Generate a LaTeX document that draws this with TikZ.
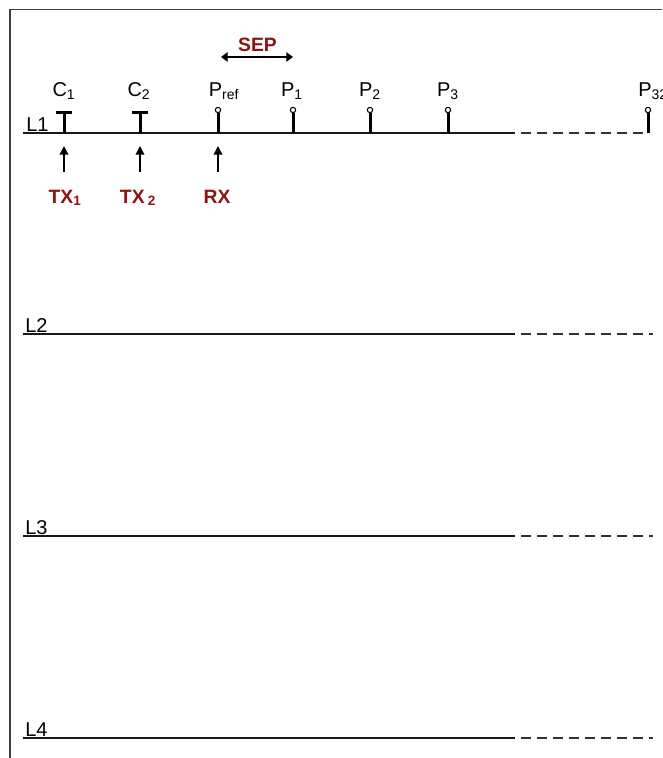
\documentclass[tikz,border=0pt]{standalone}
\usepackage{fontspec}
\setmainfont{Liberation Sans}
\usetikzlibrary{arrows.meta}
\definecolor{dred}{HTML}{8E1414}
\definecolor{framec}{HTML}{404040}
\begin{document}
\begin{tikzpicture}[x=0.75pt,y=-0.75pt,
  lab/.style={font=\fontsize{15}{17}\selectfont, inner sep=0pt, anchor=base},
  redlab/.style={font=\fontsize{14.5}{16}\selectfont\bfseries, text=dred, inner sep=0pt, anchor=base},
  bus/.style={line width=1.5pt, draw=black!90},
  busdash/.style={line width=1.5pt, draw=black!80, dash pattern=on 7.5pt off 4.5pt},
  stem/.style={line width=2.25pt, draw=black},
  bulb/.style={line width=0.8pt, draw=black, fill=white},
  ptr/.style={line width=1pt, -{Triangle[width=6.5pt,length=6.5pt]}},
  separ/.style={line width=1.2pt, {Triangle[width=7pt,length=5pt]}-{Triangle[width=7pt,length=5pt]}},
  framel/.style={line width=1.1pt, draw=framec}
]
\useasboundingbox (0,0) rectangle (662,758);
% frame
\draw[framel] (10,758) -- (10,9.5) -- (662,9.5);

% lines L1..L4
\foreach \n/\yy/\e in {1/133/645, 2/334/653, 3/536/653, 4/738/653}{
  \coordinate (L\n a) at (23,\yy);
  \coordinate (L\n b) at (515,\yy);
  \coordinate (L\n c) at (521,\yy);
  \coordinate (L\n d) at (\e,\yy);
  \draw[bus] (L\n a) -- (L\n b);
  \draw[busdash] (L\n c) -- (L\n d);
}
\node[lab, anchor=base west] (lab1) at (26,131.5) {L1};
\node[lab, anchor=base west] (lab2) at (25,332.5) {L2};
\node[lab, anchor=base west] (lab3) at (25,534.5) {L3};
\node[lab, anchor=base west] (lab4) at (25,736.5) {L4};

% current electrodes
\foreach \nm/\xx in {c1/64, c2/140}{
  \coordinate (\nm) at (\xx,133);
  \coordinate (\nm t) at (\xx,112);
  \draw[stem] (\nm) -- (\nm t);
  \draw[stem] ([xshift=-6]\nm t) -- ([xshift=6]\nm t);
}
% potential electrodes
\foreach \nm/\xx in {pref/218, p1/293, p2/370, p3/448, p32/648}{
  \coordinate (\nm) at (\xx,133);
  \coordinate (\nm t) at (\xx,113);
  \coordinate (\nm o) at (\xx,110);
  \draw[stem] (\nm) -- (\nm t);
  \draw[bulb] (\nm o) circle[radius=2pt];
}

% electrode labels
\node[lab] (lc1) at (64,96) {C\textsubscript{1}};
\node[lab] (lc2) at (139,96) {C\textsubscript{2}};
\node[lab] (lpref) at (224,96) {P\textsubscript{ref}};
\node[lab] (lp1) at (292,96) {P\textsubscript{1}};
\node[lab] (lp2) at (370,96) {P\textsubscript{2}};
\node[lab] (lp3) at (448,96) {P\textsubscript{3}};
\node[lab, anchor=base west] (lp32) at (638,96) {P\textsubscript{32}};

% SEP
\coordinate (sepa) at (221,57);
\coordinate (sepb) at (293,57);
\draw[separ] (sepa) -- (sepb);
\node[redlab] (sep) at (257.5,51) {SEP};

% TX / RX arrows
\node[redlab] (tx1) at (65,203) {TX\textsubscript{1}};
\node[redlab] (tx2) at (138,203) {TX\,\textsubscript{2}};
\node[redlab] (rx) at (217,203) {RX};
\coordinate (a1s) at (64,172); \coordinate (a1e) at (64,146);
\coordinate (a2s) at (140,172); \coordinate (a2e) at (140,146);
\coordinate (a3s) at (218,172); \coordinate (a3e) at (218,146);
\draw[ptr] (a1s) -- (a1e);
\draw[ptr] (a2s) -- (a2e);
\draw[ptr] (a3s) -- (a3e);
\end{tikzpicture}
\end{document}
